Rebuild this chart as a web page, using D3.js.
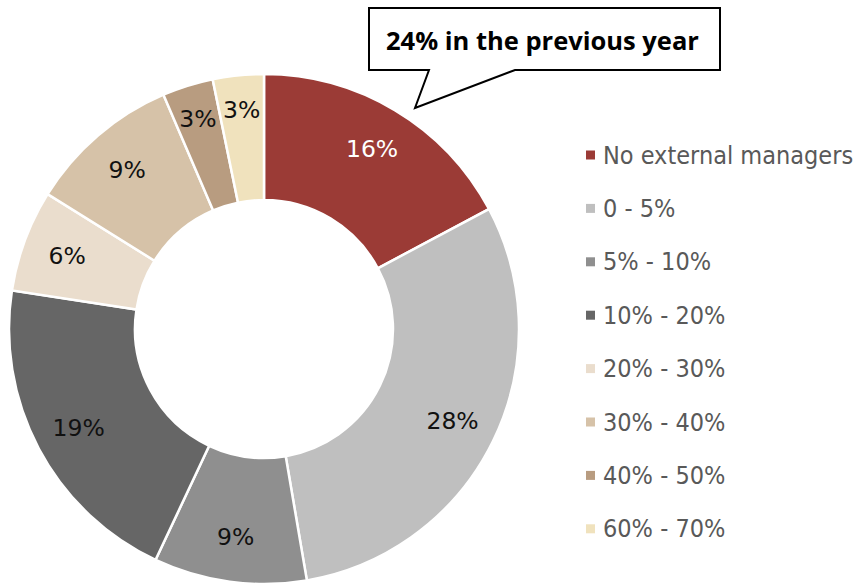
<!DOCTYPE html>
<html>
<head>
<meta charset="utf-8">
<script src="https://cdn.jsdelivr.net/npm/d3@7"></script>
<style>
  html, body { margin: 0; padding: 0; background: #fff; }
  svg { display: block; }
</style>
</head>
<body>
<svg id="chart" width="857" height="583"></svg>
<script>
// Share of assets given to external managers
const categories = ["No external managers", "0 - 5%", "5% - 10%", "10% - 20%", "20% - 30%", "30% - 40%", "40% - 50%", "60% - 70%"];
const values = [16, 28, 9, 19, 6, 9, 3, 3];
const colors = ["#9b3b36", "#bfbfbf", "#8f8f8f", "#666666", "#eaddcd", "#d6c2a8", "#b89c80", "#f0e2bd"];
const labelColors = ["#ffffff", "#111", "#111", "#111", "#111", "#111", "#111", "#111"];
const calloutText = "24% in the previous year";

const svg = d3.select("#chart");
const cx = 264, cy = 329, outerR = 255, innerR = 129, labelR = 210;

const pie = d3.pie().sort(null).value(d => d);
const arcs = pie(values);
const arc = d3.arc().innerRadius(innerR).outerRadius(outerR);
const labelArc = d3.arc().innerRadius(labelR).outerRadius(labelR);

const g = svg.append("g").attr("transform", `translate(${cx},${cy})`);

g.selectAll("path.slice")
  .data(arcs)
  .join("path")
  .attr("class", "slice")
  .attr("d", arc)
  .attr("fill", (d, i) => colors[i])
  .attr("stroke", "#fff")
  .attr("stroke-width", 2.5)
  .attr("stroke-linejoin", "miter");

g.selectAll("text.val")
  .data(arcs)
  .join("text")
  .attr("class", "val")
  .attr("transform", d => {
    const [x, y] = labelArc.centroid(d);
    const push = (d.endAngle - d.startAngle) < 0.25 ? 1.05 : 1;
    return `translate(${x * push},${y * push})`;
  })
  .attr("text-anchor", "middle")
  .attr("dominant-baseline", "central")
  .attr("font-family", "'DejaVu Sans', sans-serif")
  .attr("font-size", 23.5)
  .attr("fill", (d, i) => labelColors[i])
  .text(d => d.data + "%");

// Legend
const legend = svg.append("g").attr("transform", "translate(586,155)");
const rowH = 53.4;
const rows = legend.selectAll("g.row")
  .data(categories)
  .join("g")
  .attr("class", "row")
  .attr("transform", (d, i) => `translate(0,${i * rowH})`);
rows.append("rect")
  .attr("x", 0).attr("y", -4.5)
  .attr("width", 9).attr("height", 9)
  .attr("fill", (d, i) => colors[i]);
rows.append("text")
  .attr("x", 17)
  .attr("dominant-baseline", "central")
  .attr("font-family", "'DejaVu Sans Condensed', 'DejaVu Sans', sans-serif")
  .attr("font-stretch", "condensed")
  .attr("font-size", 25)
  .attr("fill", "#595959")
  .text(d => d);

// Callout box with pointer
const box = { l: 369, t: 8, r: 720, b: 70 };
const tail = [[429, 70], [415, 108], [515, 70]];
const path = d3.path();
path.moveTo(box.l, box.t);
path.lineTo(box.r, box.t);
path.lineTo(box.r, box.b);
path.lineTo(tail[2][0], tail[2][1]);
path.lineTo(tail[1][0], tail[1][1]);
path.lineTo(tail[0][0], tail[0][1]);
path.lineTo(box.l, box.b);
path.closePath();
svg.append("path")
  .attr("d", path.toString())
  .attr("fill", "#fff")
  .attr("stroke", "#000")
  .attr("stroke-width", 2)
  .attr("stroke-linejoin", "miter");
svg.append("text")
  .attr("x", 386)
  .attr("y", 40)
  .attr("dominant-baseline", "central")
  .attr("font-family", "'Open Sans', sans-serif")
  .attr("font-weight", "bold")
  .attr("font-size", 25.5)
  .attr("fill", "#000")
  .text(calloutText);
</script>
</body>
</html>
